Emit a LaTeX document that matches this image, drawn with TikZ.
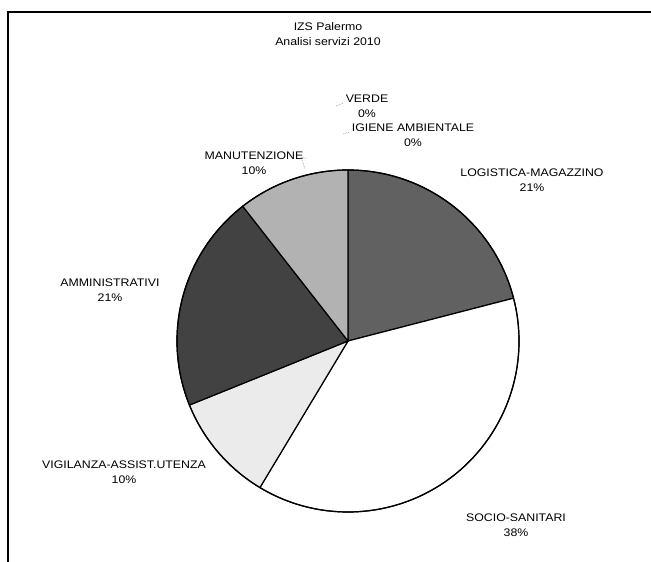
\documentclass[tikz,border=0pt]{standalone}
\usepackage{fontspec}
\setmainfont{Liberation Sans}[FakeStretch=1.12]
\usetikzlibrary{patterns}

\begin{document}
\begin{tikzpicture}[x=1pt, y=1pt,
    slice/.style={draw=black, line width=1.2pt, line join=round},
    lbl/.style={align=center, inner sep=1pt, font=\fontsize{11}{15}\selectfont},
    leader/.style={densely dotted, gray, line width=0.6pt}]
    \useasboundingbox (0,0) rectangle (651,562);
    \draw[line width=1.4pt] (8,0) -- (8,550) -- (651,550);

    \coordinate (c) at (348,221);
    \fill[slice, fill=black!62] (c) -- ++(90:171) arc[start angle=90, end angle=14.5, radius=171] -- cycle;
    \fill[slice, fill=white] (c) -- ++(14.5:171) arc[start angle=14.5, end angle=-121, radius=171] -- cycle;
    \fill[slice, fill=black!8] (c) -- ++(-121:171) arc[start angle=-121, end angle=-158, radius=171] -- cycle;
    \fill[slice, fill=black!74] (c) -- ++(-158:171) arc[start angle=-158, end angle=-232, radius=171] -- cycle;
    \fill[slice, fill=black!30] (c) -- ++(128:171) arc[start angle=128, end angle=90, radius=171] -- cycle;
    \draw[slice] (c) circle[radius=171];

    \draw (328,528) node [lbl] (title) {IZS Palermo\\Analisi servizi 2010} ;
    \draw (367,456) node [lbl] (verde) {VERDE\\0\%} ;
    \draw (413,427) node [lbl] (igiene) {IGIENE AMBIENTALE\\0\%} ;
    \draw (254,399) node [lbl] (manut) {MANUTENZIONE\\10\%} ;
    \draw (532,382) node [lbl] (logis) {LOGISTICA-MAGAZZINO\\21\%} ;
    \draw (110,272) node [lbl] (ammin) {AMMINISTRATIVI\\21\%} ;
    \draw (124,90) node [lbl] (vigil) {VIGILANZA-ASSIST.UTENZA\\10\%} ;
    \draw (516,37) node [lbl] (socio) {SOCIO-SANITARI\\38\%} ;

    \coordinate (verdeEnd) at (336,456);
    \coordinate (igieneEnd) at (343,428);
    \coordinate (manutBend) at (301,405);
    \coordinate (manutEnd) at (305,393);

    \draw[leader] (verde.north west) ++(-2,-10) coordinate (verdeTip) -- (verdeEnd);
    \draw[leader] (igiene.north west) ++(-2,-10) coordinate (igieneTip) -- (igieneEnd);
    \draw[leader] (manut.north east) ++(1,-8) coordinate (manutTip) -- (manutBend) -- (manutEnd);
\end{tikzpicture}
\end{document}
